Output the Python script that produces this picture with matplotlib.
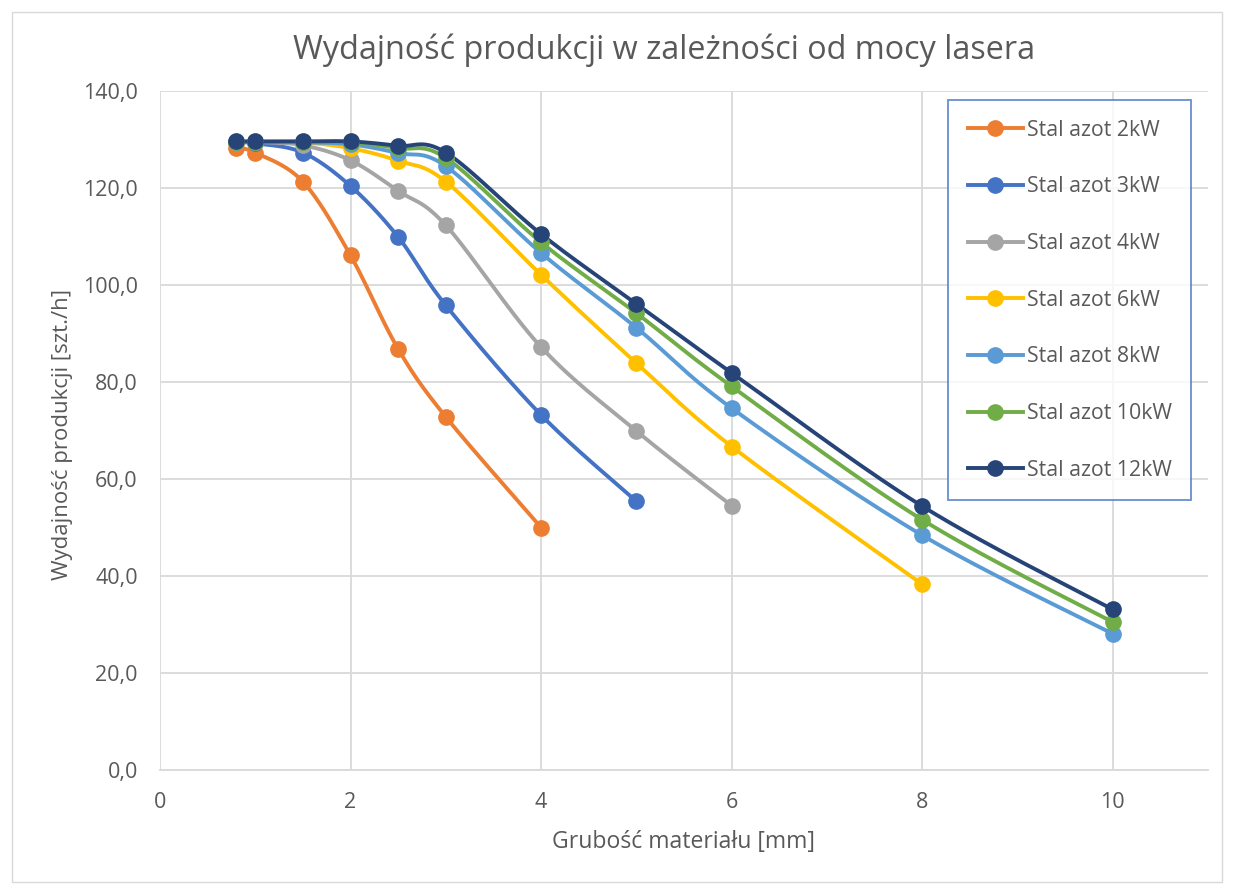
import numpy as np
import matplotlib
matplotlib.use("Agg")
import matplotlib.pyplot as plt
from matplotlib.patches import Rectangle

plt.rcParams['font.family'] = ['Open Sans', 'DejaVu Sans']

thickness = [0.8, 1, 1.5, 2, 2.5, 3, 4, 5, 6, 8, 10]

s2kW = [128.2, 127.3, 121.3, 106.1, 86.8, 72.8, 50.0]
s3kW = [129.4, 129.2, 127.3, 120.4, 109.9, 95.8, 73.2, 55.4]
s4kW = [129.5, 129.5, 128.8, 125.7, 119.4, 112.3, 87.2, 69.9, 54.5]
s6kW = [129.5, 129.5, 129.4, 128.2, 125.6, 121.3, 102.1, 83.9, 66.7, 38.3]
s8kW = [129.5, 129.5, 129.4, 129.0, 127.2, 124.5, 106.6, 91.2, 74.6, 48.4, 28.1]
s10kW = [129.5, 129.5, 129.5, 129.4, 128.2, 126.2, 108.8, 94.2, 79.1, 51.6, 30.5]
s12kW = [129.6, 129.6, 129.6, 129.6, 128.7, 127.3, 110.5, 96.1, 81.9, 54.4, 33.1]

labels = ["Stal azot 2kW", "Stal azot 3kW", "Stal azot 4kW", "Stal azot 6kW",
          "Stal azot 8kW", "Stal azot 10kW", "Stal azot 12kW"]
series = [s2kW, s3kW, s4kW, s6kW, s8kW, s10kW, s12kW]
colors = ["#ED7D31", "#4472C4", "#A5A5A5", "#FFC000", "#5B9BD5", "#70AD47", "#264478"]

yticks = [0, 20, 40, 60, 80, 100, 120, 140]
xticks = [0, 2, 4, 6, 8, 10]

TXT = "#595959"


def smooth(x, y, n=30):
    # Excel-like smoothed line: cubic Bezier with control points from neighbours
    x = np.asarray(x, float); y = np.asarray(y, float)
    P = np.column_stack([x, y])
    out = [P[0]]
    m = len(P)
    for i in range(m - 1):
        p0 = P[i - 1] if i > 0 else P[i]
        p1 = P[i]
        p2 = P[i + 1]
        p3 = P[i + 2] if i + 2 < m else P[i + 1]
        c1 = p1 + (p2 - p0) / 6.0
        c2 = p2 - (p3 - p1) / 6.0
        t = np.linspace(0, 1, n)[1:, None]
        b = ((1 - t) ** 3) * p1 + 3 * ((1 - t) ** 2) * t * c1 + 3 * (1 - t) * t ** 2 * c2 + t ** 3 * p2
        out.extend(b)
    out = np.array(out)
    return out[:, 0], out[:, 1]


W, H = 1234, 894
fig = plt.figure(figsize=(W / 100, H / 100), dpi=100)
fig.patch.set_facecolor("white")
fig.patches.append(Rectangle((12 / W, 12 / H), 1210 / W, 870 / H, transform=fig.transFigure,
                             fill=False, edgecolor="#D9D9D9", linewidth=1))

ax = fig.add_axes([160 / W, 1 - 770 / H, (1208 - 160) / W, (770 - 91) / H])
ax.set_xlim(0, 11)
ax.set_ylim(0, 140)
ax.set_xticks(xticks)
ax.set_yticks(yticks)
ax.set_yticklabels([f"{v:.1f}".replace(".", ",") for v in yticks])
ax.grid(True, color="#D9D9D9", linewidth=1.3)
ax.set_axisbelow(True)
for sp in ["top", "right", "left"]:
    ax.spines[sp].set_visible(False)
ax.spines["bottom"].set_color("#D9D9D9")
ax.spines["bottom"].set_linewidth(1.3)
ax.tick_params(length=0, labelsize=15.5, labelcolor=TXT)
ax.tick_params(axis="y", pad=16)
ax.tick_params(axis="x", pad=16)

handles = []
for lab, vals, c in zip(labels, series, colors):
    xs = thickness[:len(vals)]
    sx, sy = smooth(xs, vals)
    ax.plot(sx, sy, color=c, linewidth=2.8, solid_capstyle="round", zorder=3)
    ax.plot(xs, vals, linestyle="none", marker="o", markersize=11, color=c, zorder=4)
    h, = ax.plot([], [], color=c, linewidth=2.8, marker="o", markersize=11, label=lab)
    handles.append(h)

fig.text(664.5 / W, 1 - 50 / H, "Wydajność produkcji w zależności od mocy lasera",
         fontsize=23.3, color=TXT, ha="center", va="center")
fig.text((160 + 1208) / 2 / W, 1 - 842 / H, "Grubość materiału [mm]",
         fontsize=16.6, color=TXT, ha="center", va="center")
fig.text(63 / W, 1 - 435 / H, "Wydajność produkcji [szt./h]",
         fontsize=16.0, color=TXT, ha="center", va="center", rotation=90)

leg = fig.legend(handles=handles, loc="upper left", bbox_to_anchor=(948 / W, 1 - 100 / H),
                 frameon=True, fancybox=False, fontsize=15.3, labelspacing=1.68,
                 handlelength=2.6, handletextpad=0.18, borderpad=0.92, borderaxespad=0)
leg.get_frame().set_edgecolor("#4472C4")
leg.get_frame().set_linewidth(1.3)
for t in leg.get_texts():
    t.set_color(TXT)

fig.savefig("out.png", dpi=100, facecolor="white")
